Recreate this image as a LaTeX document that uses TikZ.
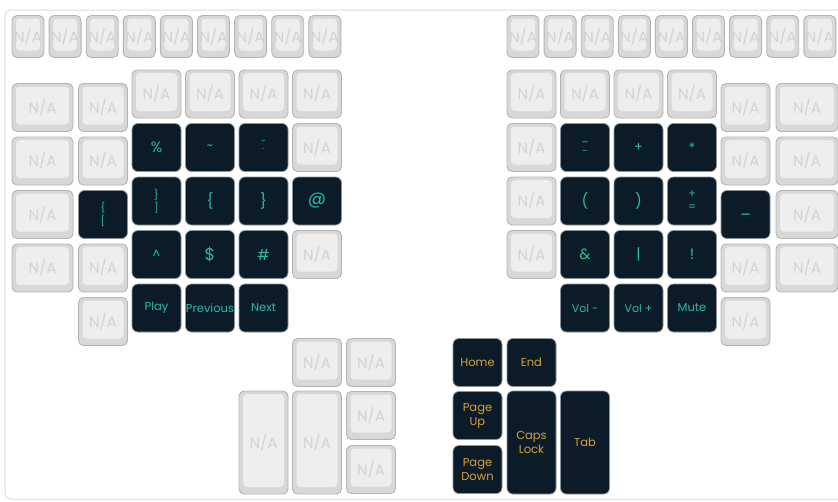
\documentclass[tikz,border=0pt]{standalone}
\usepackage{fontspec}
\setmainfont{Poppins}
\usetikzlibrary{positioning}
\definecolor{KEdge}{HTML}{B4B4B4}
\definecolor{KBase}{HTML}{D8D8D8}
\definecolor{KFace}{HTML}{EEEEEE}
\definecolor{KText}{HTML}{D2D2D2}
\definecolor{DFill}{HTML}{0B1C28}
\definecolor{DEdge}{HTML}{8C9398}
\definecolor{DTeal}{HTML}{2CBAA7}
\definecolor{DGold}{HTML}{D9A238}
\definecolor{Frame}{HTML}{DCDCDC}
\newcommand{\legsize}[2][0]{\fontsize{#2}{\dimexpr#2pt+#1pt\relax}\selectfont}

\begin{document}
\begin{tikzpicture}[
  x=1pt,y=-1pt,
  every node/.style={font=\legsize{15}},
  nkey/.style={draw=KEdge,fill=KBase,line width=0.9pt,rounded corners=5pt,
    inner sep=0pt,minimum width=49pt,minimum height=48pt,text=KText,
    path picture={\fill[KFace,rounded corners=4pt]
      ([xshift=4pt,yshift=-3pt]path picture bounding box.north west) rectangle
      ([xshift=-4pt,yshift=7pt]path picture bounding box.south east);}},
  dkey/.style={draw=DEdge,fill=DFill,line width=0.7pt,rounded corners=6pt,
    inner sep=0pt,minimum width=49pt,minimum height=48pt,text=DTeal,align=center},
  thumb/.style={dkey,text=DGold,font={\legsize[2.5]{11.5}}},
  wide/.style={minimum width=61pt},
  tall/.style={minimum height=103pt},
  tiny/.style={minimum width=32pt,minimum height=42pt,rounded corners=5pt},
  stack/.style={font={\legsize[3]{10}}},
  media/.style={font=\legsize{11.5}}
]
  \useasboundingbox (0,0) rectangle (838,501);
  \clip (0,0) rectangle (838,501);
  \draw[Frame,line width=1pt,rounded corners=6pt] (5,10) rectangle (870,499);

  % top row
  \foreach \i in {0,...,8} {
    \node[nkey,tiny] (tl\i) at ({28+37.1*\i},36.5) {N/A};
    \node[nkey,tiny] (tr\i) at ({523+37.1*\i},36.5) {N/A};
  }

  % left half, blank keys
  \foreach \n/\x/\y in {a/42.5/107.5,b/42.5/161,c/42.5/214.5,d/42.5/268}
    \node[nkey,wide] (l0\n) at (\x,\y) {N/A};
  \foreach \n/\x/\y in {l1a/103/107.5,l1b/103/161,l1d/103/268,l1e/103/321.5,
      l2a/156.5/94,l3a/210/94,l4a/263.5/94,l5a/317/94,l5b/317/147.5,l5d/317/254.5}
    \node[nkey] (\n) at (\x,\y) {N/A};

  % left half, symbols
  \node[dkey,stack] (l1c) at (103,214.5) {\{\\{[}};
  \node[dkey] (l2b) at (156.5,147.5) {\%};
  \node[dkey,stack] (l2c) at (156.5,201) {\}\\{]}};
  \node[dkey,font=\legsize{12}] (l2d) at (156.5,254.5) {\textasciicircum};
  \node[dkey,media] (l2e) at (156.5,308) {Play};
  \node[dkey,font=\legsize{12}] (l3b) at (210,147.5) {\textasciitilde};
  \node[dkey] (l3c) at (210,201) {\{};
  \node[dkey,font=\legsize{17}] (l3d) at (210,254.5) {\$};
  \node[dkey,media] (l3e) at (210,308) {Previous};
  \node[dkey,font={\legsize[3]{8}}] (l4b) at (263.5,147.5) {\textasciitilde\\\textasciigrave};
  \node[dkey] (l4c) at (263.5,201) {\}};
  \node[dkey] (l4d) at (263.5,254.5) {\#};
  \node[dkey,media] (l4e) at (263.5,308) {Next};
  \node[dkey,font=\legsize{18}] (l5c) at (317,201) {@};

  % right half, blank keys
  \foreach \n/\x/\y in {r0a/531.5/94,r0b/531.5/147.5,r0c/531.5/201,r0d/531.5/254.5,
      r1a/585/94,r2a/638.5/94,r3a/692/94,
      r4a/745.5/107.5,r4b/745.5/161,r4d/745.5/268,r4e/745.5/321.5}
    \node[nkey] (\n) at (\x,\y) {N/A};
  \foreach \n/\y in {a/107.5,b/161,c/214.5,d/268}
    \node[nkey,minimum width=62pt] (r5\n) at (807,\y) {N/A};

  % right half, symbols
  \node[dkey,stack] (r1b) at (585,147.5) {\_\\-};
  \node[dkey] (r1c) at (585,201) {(};
  \node[dkey] (r1d) at (585,254.5) {\&};
  \node[dkey,font=\legsize{11}] (r1e) at (585,308) {Vol -};
  \node[dkey,font=\legsize{13}] (r2b) at (638.5,147.5) {+};
  \node[dkey] (r2c) at (638.5,201) {)};
  \node[dkey] (r2d) at (638.5,254.5) {|};
  \node[dkey,font=\legsize{11}] (r2e) at (638.5,308) {Vol +};
  \node[dkey,font=\legsize{13}] (r3b) at (692,147.5) {*};
  \node[dkey,font={\legsize[2]{11}}] (r3c) at (692,201) {+\\=};
  \node[dkey] (r3d) at (692,254.5) {!};
  \node[dkey,media] (r3e) at (692,308) {Mute};
  \node[dkey] (r4c) at (745.5,214.5) {\_};

  % left thumb cluster
  \foreach \n/\x/\y in {ta/317/362.5,tb/371/362.5,tc/371/415.5,td/371/469.5}
    \node[nkey] (\n) at (\x,\y) {N/A};
  \node[nkey,tall] (te) at (263.5,442.5) {N/A};
  \node[nkey,tall] (tf) at (317,442.5) {N/A};

  % right thumb cluster
  \node[thumb] (home) at (477.5,362.5) {Home};
  \node[thumb] (end) at (531.5,362.5) {End};
  \node[thumb] (pgup) at (477.5,415.5) {Page\\Up};
  \node[thumb] (pgdn) at (477.5,469.5) {Page\\Down};
  \node[thumb,tall] (caps) at (531.5,442.5) {Caps\\Lock};
  \node[thumb,tall] (tab) at (585,442.5) {Tab};
\end{tikzpicture}
\end{document}
